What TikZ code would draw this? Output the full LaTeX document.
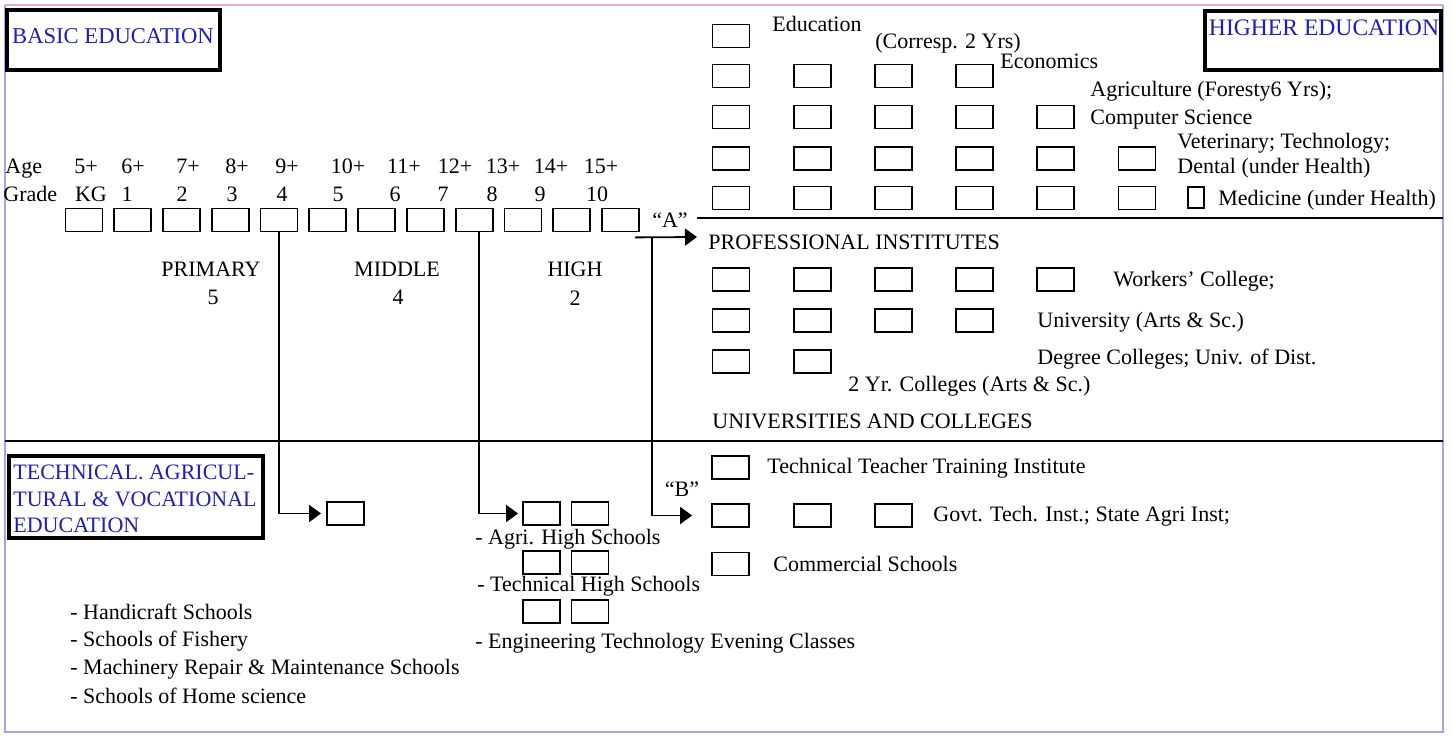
\documentclass[tikz,border=0pt]{standalone}
\usepackage{fontspec}
\setmainfont{Liberation Serif}
\usetikzlibrary{arrows.meta,positioning}
\definecolor{headblue}{RGB}{30,30,185}
\definecolor{framepink}{RGB}{222,170,225}
\definecolor{frameblue}{RGB}{165,165,225}
\tikzstyle{sbox}=[draw,line width=0.9pt,minimum width=18.5pt,minimum height=11.5pt,inner sep=0pt]
\tikzstyle{txt}=[inner sep=0pt,text height=7pt,text depth=2pt]
\tikzstyle{headbox}=[line width=2.2pt]
\tikzstyle{arr}=[line width=0.9pt,-{Triangle[length=6pt,width=8.5pt]}]
\tikzstyle{sep}=[line width=1pt]

\begin{document}
\begin{tikzpicture}[x=0.5pt,y=-0.5pt,font=\fontsize{11}{13}\selectfont]
	\useasboundingbox (0,0) rectangle (1453,735);
	\draw [framepink, line width=1pt] (5,5) -- (1443,5);
	\draw [frameblue, line width=0.8pt] (5,5) -- (5,732) -- (1443,732) -- (1443,5);
	\draw [sep] (697,218) -- (1443,218);
	\draw [sep] (5,441) -- (1443,441);

	% headings
	\draw [headbox] (7.2,10.2) rectangle (219.8,69.8);
	\node [txt, headblue, font=\fontsize{11.3}{13}\selectfont] (basic) at (113,38) {BASIC EDUCATION};
	\draw [headbox] (1205.2,11.2) rectangle (1440.8,69.8);
	\node [txt, headblue, font=\fontsize{11.8}{13}\selectfont] (higher) at (1324,30) {HIGHER EDUCATION};
	\draw [headbox] (9.2,456.2) rectangle (262.8,537.8);
	\node [inner sep=0pt, headblue, anchor=west, align=left, font=\fontsize{11}{13.25}\selectfont] (tech) at (13,499) {TECHNICAL. AGRICUL-\\TURAL \& VOCATIONAL\\EDUCATION};

	% ages and grades
	\node [txt, anchor=west] (age) at (5,168) {Age};
	\node [txt, anchor=west] (grade) at (3,196) {Grade};
	\foreach \x/\t [count=\i] in {86/5+,133/6+,188/7+,237/8+,287/9+,348/10+,404/11+,455/12+,503/13+,551/14+,601/15+}
		\node [txt] (age-\i) at (\x,168) {\t};
	\foreach \x/\t [count=\i] in {91/KG,127/1,182/2,232/3,282/4,338/5,395/6,443/7,492/8,540/9,597/10}
		\node [txt] (gl-\i) at (\x,196) {\t};
	\foreach \i in {0,...,11}
		\node [sbox] (g\i) at ({84+48.77*\i},220) {};

	\node [txt] (prim) at (211,271) {PRIMARY};
	\node [txt] (prim-n) at (213,299) {5};
	\node [txt] (mid) at (397,271) {MIDDLE};
	\node [txt] (mid-n) at (398,299) {4};
	\node [txt] (high) at (575,271) {HIGH};
	\node [txt] (high-n) at (575,300) {2};

	% higher education
	\foreach \r/\y/\n in {1/36/1,2/76/4,3/117/5,4/158.5/6,5/198/6}
		\foreach \c in {1,...,\n}
			\node [sbox] (h\r-\c) at ({731+81.2*(\c-1)},\y) {};
	\node [sbox, minimum width=8pt, minimum height=10.5pt] (hmed) at (1196,197.5) {};
	\node [txt, anchor=west] (t-edu) at (772,26) {Education};
	\node [txt, anchor=west] (t-cor) at (875,43) {(Corresp. 2 Yrs)};
	\node [txt, anchor=west] (t-eco) at (1000,63) {Economics};
	\node [txt, anchor=west] (t-agr) at (1090,91) {Agriculture (Foresty6 Yrs);};
	\node [txt, anchor=west] (t-com) at (1090,119) {Computer Science};
	\node [txt, anchor=west] (t-vet) at (1177,143) {Veterinary; Technology;};
	\node [txt, anchor=west] (t-den) at (1177,168) {Dental (under Health)};
	\node [txt, anchor=west] (t-med) at (1218,200) {Medicine (under Health)};

	\node [txt, anchor=west] (prof) at (708,244) {PROFESSIONAL INSTITUTES};
	\foreach \r/\y/\n in {1/279.5/5,2/320.5/4,3/361.5/2}
		\foreach \c in {1,...,\n}
			\node [sbox] (p\r-\c) at ({731+81.2*(\c-1)},\y) {};
	\node [txt, anchor=west] (t-wor) at (1113,281) {Workers’ College;};
	\node [txt, anchor=west] (t-uni) at (1037,322) {University (Arts \& Sc.)};
	\node [txt, anchor=west] (t-deg) at (1037,359) {Degree Colleges; Univ. of Dist.};
	\node [txt, anchor=west] (t-two) at (848,386) {2 Yr. Colleges (Arts \& Sc.)};
	\node [txt, anchor=west] (univ) at (712,423) {UNIVERSITIES AND COLLEGES};

	% technical education
	\node [sbox] (hc) at (345.5,513.5) {};
	\foreach \r/\y in {ah/513.5,th/562.5,ee/611.5} {
		\node [sbox] (\r1) at (541.5,\y) {};
		\node [sbox] (\r2) at (590,\y) {};
	}
	\node [txt, anchor=west] (t-ah) at (475,539) {- Agri. High Schools};
	\node [txt, anchor=west] (t-th) at (477,586) {- Technical High Schools};
	\node [txt, anchor=west] (t-ee) at (475,643) {- Engineering Technology Evening Classes};
	\foreach \y/\t [count=\i] in {614/Handicraft Schools,641/Schools of Fishery,669/Machinery Repair \& Maintenance Schools,698/Schools of Home science}
		\node [txt, anchor=west] (list-\i) at (70,\y) {- \t};

	\node [sbox] (tt) at (730.5,467.5) {};
	\node [sbox] (gt1) at (730.5,515.5) {};
	\node [sbox] (gt2) at (812.5,515.5) {};
	\node [sbox] (gt3) at (893.5,515.5) {};
	\node [sbox] (cs) at (730.5,564) {};
	\node [txt, anchor=west] (t-tt) at (767,468) {Technical Teacher Training Institute};
	\node [txt, anchor=west] (t-gt) at (933,516) {Govt. Tech. Inst.; State Agri Inst;};
	\node [txt, anchor=west] (t-cs) at (773,566) {Commercial Schools};

	% connectors
	\coordinate (a0) at ([shift={(-2.5pt,-2.5pt)}]g11.south east);
	\coordinate (aj) at (652,237);
	\coordinate (a1) at (697,237);
	\draw [arr] (a0) -- (a1);
	\draw [arr, shorten >=9.5pt] (aj) |- (gt1.west);
	\draw [arr, shorten >=2.5pt] (g4.south) |- (hc.west);
	\draw [arr, shorten >=2pt] ([xshift=2.5pt]g8.south) |- (ah1.west);
	\node [txt] (qa) at (670,222) {“A”};
	\node [txt] (qb) at (682,491) {“B”};
\end{tikzpicture}
\end{document}
